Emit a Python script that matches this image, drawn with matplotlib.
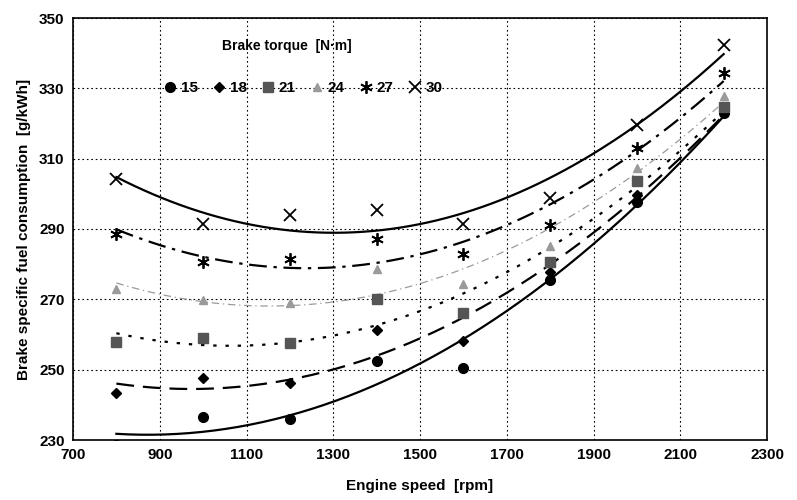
import matplotlib
matplotlib.use("Agg")
import matplotlib.pyplot as plt
import numpy as np

plt.rcParams['font.family'] = ['Liberation Sans', 'DejaVu Sans']
plt.rcParams['font.weight'] = 'bold'

# engine speed [rpm]
speed = [800, 1000, 1200, 1400, 1600, 1800, 2000, 2200]

# brake specific fuel consumption [g/kWh], one list per brake torque
# (15 N.m at 800 rpm lies just below the axis, only its trend line shows)
bsfc_15 = [228.5, 236.6, 235.9, 252.6, 250.4, 275.5, 297.8, 322.9]
bsfc_18 = [243.3, 247.5, 246.3, 261.3, 258.2, 277.8, 299.7, 323.8]
bsfc_21 = [258.0, 258.9, 257.5, 270.0, 266.2, 280.7, 303.7, 324.8]
bsfc_24 = [272.8, 269.8, 268.9, 278.5, 274.3, 285.2, 307.3, 327.8]
bsfc_27 = [288.6, 280.7, 281.4, 287.1, 282.8, 291.2, 312.9, 334.3]
bsfc_30 = [304.1, 291.3, 294.0, 295.4, 291.4, 298.9, 319.6, 342.3]

torques = ['15', '18', '21', '24', '27', '30']
series = [bsfc_15, bsfc_18, bsfc_21, bsfc_24, bsfc_27, bsfc_30]

markers = ['o', 'D', 's', '^', (6, 2, 0), 'x']
msizes = [7, 5.5, 6.5, 5.5, 9, 8]
mcolors = ['black', 'black', '#555555', '#9a9a9a', 'black', 'black']
lcolors = ['black', 'black', 'black', '#9a9a9a', 'black', 'black']
lstyles = ['-', (0, (8, 4)), (0, (1.5, 4)), (0, (6, 3, 1, 3)), (0, (8, 3, 1.5, 3)), '-']
lwidths = [1.6, 1.6, 1.6, 0.9, 1.6, 1.6]

fig = plt.figure(figsize=(7.97, 5.0), dpi=100)
ax = fig.add_axes([0.0916, 0.12, 0.8708, 0.844])

xs = np.linspace(800, 2200, 200)
for i in range(len(series)):
    x = np.array(speed, dtype=float)
    y = np.array(series[i], dtype=float)
    # 2nd order trend line like in the spreadsheet
    coef = np.polyfit(x, y, 2)
    ax.plot(xs, np.polyval(coef, xs), color=lcolors[i], ls=lstyles[i], lw=lwidths[i], zorder=2)
    if markers[i] == 'x' or isinstance(markers[i], tuple):
        ax.plot(x, y, ls='', marker=markers[i], ms=msizes[i], color=mcolors[i],
                mew=1.3, label=torques[i], zorder=3)
    else:
        ax.plot(x, y, ls='', marker=markers[i], ms=msizes[i], color=mcolors[i],
                mec=mcolors[i], label=torques[i], zorder=3)

ax.set_xlim(700, 2300)
ax.set_ylim(230, 350)
ax.set_xticks(np.arange(700, 2301, 200))
ax.set_yticks(np.arange(230, 351, 20))
ax.grid(True, color='black', ls=(0, (1.5, 2.5)), lw=0.8)
ax.tick_params(axis='both', labelsize=11, length=0, pad=6)
for lab in ax.get_xticklabels() + ax.get_yticklabels():
    lab.set_fontweight('bold')
for sp in ax.spines.values():
    sp.set_linewidth(1.2)

ax.set_xlabel('Engine speed  [rpm]', fontsize=11, fontweight='bold', labelpad=12)
ax.set_ylabel('Brake specific fuel consumption  [g/kWh]', fontsize=11, fontweight='bold', labelpad=6)

ax.text(0.215, 0.934, 'Brake torque  [N\u00b7m]', transform=ax.transAxes,
        fontsize=10, fontweight='bold', ha='left', va='center')
ax.legend(ncol=6, frameon=False, loc='center left', bbox_to_anchor=(0.111, 0.834),
          handlelength=0.8, handletextpad=0.3, columnspacing=1.0,
          prop={'weight': 'bold', 'size': 11})

fig.savefig('out.png', dpi=100)
